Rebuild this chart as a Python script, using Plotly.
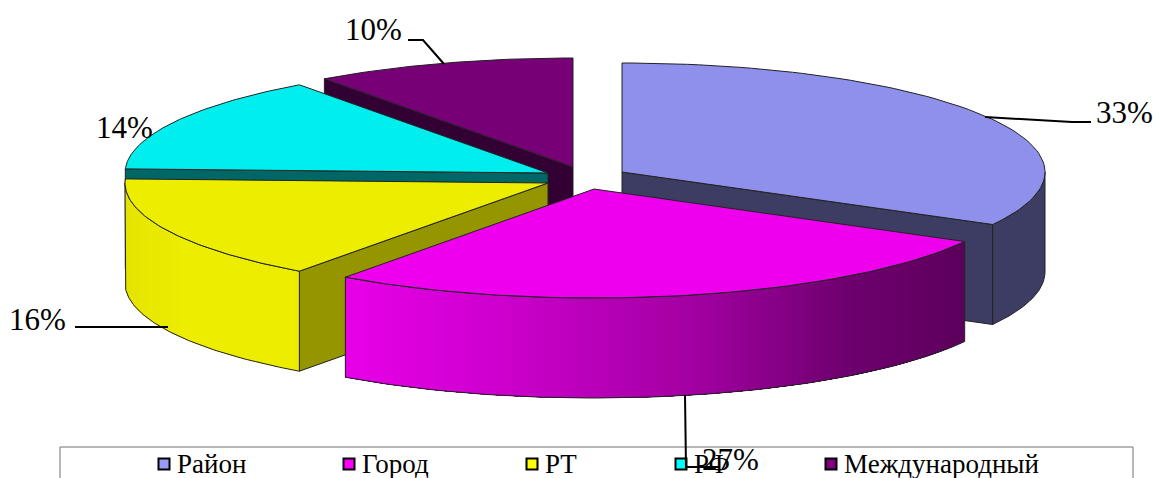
import math
import plotly.graph_objects as go

# --- data ---
categories = ["Район", "Город", "РТ", "РФ", "Международный"]
values = [33, 27, 15.6, 14.4, 10]

# --- styling / layout geometry (pixels of the 1153x478 canvas) ---
W, H = 1153, 478
RX, RY, DEPTH = 423, 109, 100
apex = [(622, 172), (594, 189), (548, 183), (548, 173), (573, 167)]
top_col = ["#8f8fec", "#ee00ee", "#eded00", "#00eeee", "#770077"]
inner_col = ["#3d3d63", None, "#959500", "#006666", "#330033"]
swatch_col = ["#9999ff", "#ff00ff", "#ffff00", "#00ffff", "#800080"]
swatch_x = [164, 349, 532, 681, 831]
EDGE = "#222222"
SERIF = "Liberation Serif"

total = sum(values)
angles = [0]
for v in values:
    angles.append(angles[-1] + 360 * v / total)


def pt(i, deg, dy=0):
    a = math.radians(deg)
    return (apex[i][0] + RX * math.sin(a), apex[i][1] - RY * math.cos(a) + dy)


def arc(i, a0, a1, dy=0, n=80):
    return [pt(i, a0 + (a1 - a0) * k / n, dy) for k in range(n + 1)]


fig = go.Figure()


def poly(points, fill, line=EDGE, width=1):
    xs = [p[0] for p in points] + [points[0][0]]
    ys = [p[1] for p in points] + [points[0][1]]
    fig.add_trace(go.Scatter(
        x=xs, y=ys, mode="lines", fill="toself", fillcolor=fill,
        line=dict(color=line if line else fill, width=width if line else 0),
        hoverinfo="skip", showlegend=False))


def inner_wall(i, deg):
    ax, ay = apex[i]
    p = pt(i, deg)
    poly([(ax, ay), p, (p[0], p[1] + DEPTH), (ax, ay + DEPTH)], inner_col[i])


def lerp(c0, c1, t):
    return "rgb(%d,%d,%d)" % tuple(round(a + (b - a) * t) for a, b in zip(c0, c1))


def outer_wall(i, a0, a1, color_at, strips=60):
    """Gradient wall: painter's strips, each running on to the end of the wall."""
    for k in range(strips):
        s = a0 + (a1 - a0) * k / strips
        top = arc(i, s, a1, 0, 50)
        bottom = arc(i, a1, s, DEPTH, 50)
        poly(top + bottom, color_at(pt(i, s + (a1 - a0) / strips / 2)[0]), line=None)
    poly(arc(i, a0, a1) + arc(i, a1, a0, DEPTH), "rgba(0,0,0,0)")


def top_face(i):
    poly([apex[i]] + arc(i, angles[i], angles[i + 1]), top_col[i])


# Международный
inner_wall(4, angles[4])
top_face(4)
# РФ
inner_wall(3, angles[3])
top_face(3)
# РТ


def yellow(x):
    t = min(1, max(0, (x - 126) / 60))
    return lerp((228, 228, 0), (237, 237, 0), t)


inner_wall(2, angles[2])
outer_wall(2, angles[2], 270, yellow, 40)
top_face(2)
# Район
inner_wall(0, angles[1])
poly(arc(0, 90, angles[1]) + arc(0, angles[1], 90, DEPTH), inner_col[0])
top_face(0)


# Город
def magenta(x):
    stops = [(345, (232, 0, 232)), (500, (205, 0, 205)), (700, (160, 0, 160)),
             (850, (110, 0, 110)), (965, (92, 0, 92))]
    for (x0, c0), (x1, c1) in zip(stops, stops[1:]):
        if x <= x1:
            return lerp(c0, c1, max(0, (x - x0) / (x1 - x0)))
    return lerp(stops[-1][1], stops[-1][1], 0)


outer_wall(1, angles[1], angles[2], magenta, 90)
top_face(1)

# legend swatches
fig.add_trace(go.Scatter(
    x=swatch_x, y=[464] * len(categories), mode="markers",
    marker=dict(symbol="square", size=11, color=swatch_col,
                line=dict(color="#000000", width=2)),
    hoverinfo="skip", showlegend=False))

# texts
label_pos = [(1124, 112), (730, 459), (37, 319), (124, 127), (373, 29)]
annotations = []
for (lx, ly), v in zip(label_pos, values):
    annotations.append(dict(x=lx, y=ly, text=f"{round(v)}%", showarrow=False, xanchor="center",
                            yanchor="middle", font=dict(family=SERIF, size=31, color="#000000")))
for sx, c in zip(swatch_x, categories):
    annotations.append(dict(x=sx + 11, y=464, text=c, showarrow=False, xanchor="left",
                            yanchor="middle",
                            font=dict(family=SERIF, size=27, color="#000000")))

# leader lines and legend frame
def seg(pts, color="#000000", width=2):
    path = "M " + " L ".join(f"{x} {y}" for x, y in pts)
    return dict(type="path", path=path, xref="x", yref="y", line=dict(color=color, width=width))


shapes = [
    seg([(60, 478), (60, 447), (1133, 447), (1133, 478)], "#707070", 1),
    seg([(985, 117), (1072, 122), (1091, 122)]),
    seg([(685, 395), (686, 467), (720, 467)]),
    seg([(168, 327), (75, 327)]),
    seg([(408, 40), (423, 40), (444, 64)]),
]

fig.update_layout(
    width=W, height=H, autosize=False,
    margin=dict(l=0, r=0, t=0, b=0),
    paper_bgcolor="#ffffff", plot_bgcolor="#ffffff",
    xaxis=dict(range=[0, W], visible=False, fixedrange=True),
    yaxis=dict(range=[H, 0], visible=False, fixedrange=True),
    annotations=annotations, shapes=shapes, showlegend=False,
)
fig.write_html("out.html", config={"displayModeBar": False},
               post_script="document.body.style.margin='0';document.body.style.overflow='hidden';")
